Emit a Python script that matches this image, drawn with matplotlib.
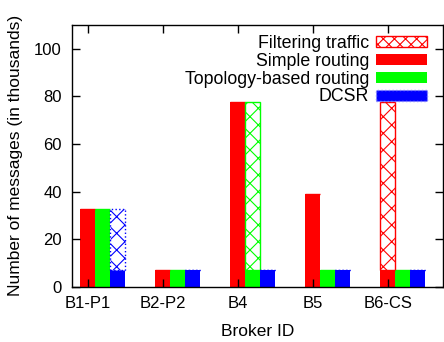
import matplotlib
matplotlib.use("Agg")
import matplotlib.pyplot as plt
from matplotlib.patches import Patch
import numpy as np

plt.rcParams['font.family'] = ['Liberation Sans', 'DejaVu Sans']
plt.rcParams['hatch.linewidth'] = 0.8

# data (thousands of messages)
brokers = ['B1-P1', 'B2-P2', 'B4', 'B5', 'B6-CS']
simple = [32.6, 6.9, 77.6, 39.0, 6.9]
topology = [32.6, 6.9, 6.9, 6.9, 6.9]
dcsr = [6.9, 6.9, 6.9, 6.9, 6.9]
# filtering traffic stacked on top of the routing bars
filter_simple = [0, 0, 0, 0, 70.7]
filter_topology = [0, 0, 70.7, 0, 0]
filter_dcsr = [25.7, 0, 0, 0, 0]

x = np.arange(len(brokers))
w = 0.2

fig = plt.figure(figsize=(4.44, 3.42), dpi=100)
ax = fig.add_axes([0.1615, 0.1617, 0.836, 0.7653])

ax.bar(x, simple, w, color='#ff0000', linewidth=0)
ax.bar(x + w, topology, w, color='#00ff00', linewidth=0)
ax.bar(x + 2 * w, dcsr, w, color='#0000ff', linewidth=0)

ax.bar(x, filter_simple, w, bottom=simple, facecolor='white',
       edgecolor='#ff0000', hatch='xx', linewidth=1)
ax.bar(x + w, filter_topology, w, bottom=topology, facecolor='white',
       edgecolor='#00ff00', hatch='xx', linewidth=1)
ax.bar(x + 2 * w, filter_dcsr, w, bottom=dcsr, facecolor='white',
       edgecolor='#0000ff', hatch='xx', linewidth=1, linestyle=':')

ax.set_xlim(-0.213, 4.733)
ax.set_ylim(0, 110)
ax.set_xticks(x)
ax.set_xticklabels(brokers)
ax.set_yticks([0, 20, 40, 60, 80, 100])
ax.tick_params(direction='in', top=True, right=True, length=6, width=1,
               labelsize=12, pad=7)
for s in ax.spines.values():
    s.set_linewidth(1)

ax.set_xlabel('Broker ID', fontsize=12.5, labelpad=9)
ax.set_ylabel('Number of messages (in thousands)', fontsize=12.5, labelpad=8)

handles = [
    Patch(facecolor='white', edgecolor='#ff0000', hatch='xxx', linewidth=1),
    Patch(facecolor='#ff0000', linewidth=0),
    Patch(facecolor='#00ff00', linewidth=0),
    Patch(facecolor='#0000ff', edgecolor='#8080ff', linestyle=':', linewidth=1),
]
labels = ['Filtering traffic', 'Simple routing', 'Topology-based routing', 'DCSR']
ax.legend(handles, labels, loc='upper right', frameon=False, markerfirst=False,
          fontsize=12.8, handlelength=2.85, handleheight=0.6, labelspacing=0.05,
          handletextpad=0.4, borderaxespad=0.3, bbox_to_anchor=(0.99, 1.01))

fig.savefig('out.png', dpi=100)
